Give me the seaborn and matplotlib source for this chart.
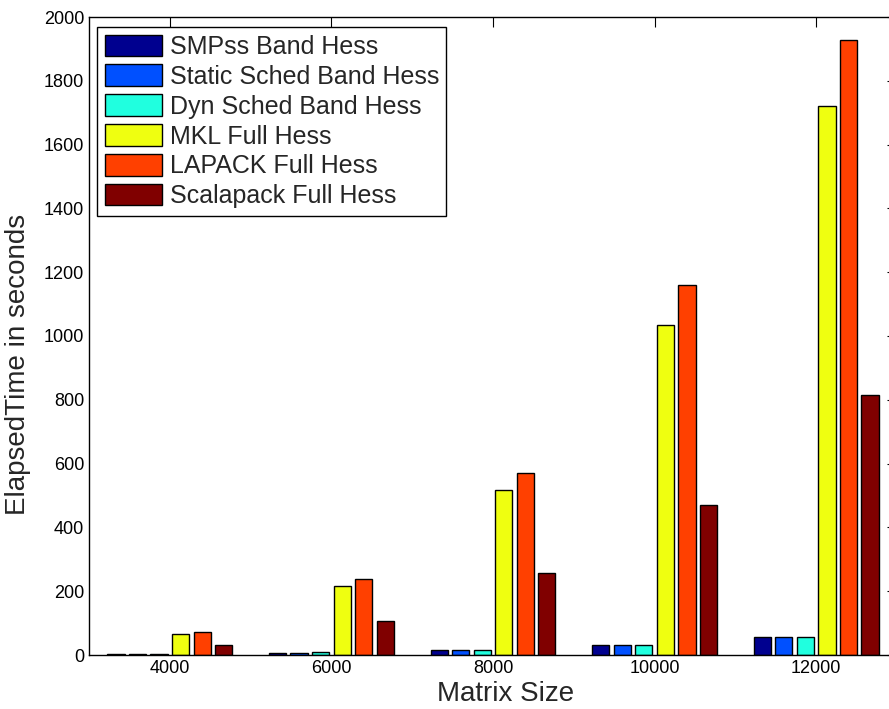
import matplotlib
matplotlib.use("Agg")
import matplotlib.pyplot as plt
import seaborn as sns
import pandas as pd

# Datos (segundos)
matrix_sizes = [4000, 6000, 8000, 10000, 12000]
methods = ["SMPss Band Hess", "Static Sched Band Hess", "Dyn Sched Band Hess",
           "MKL Full Hess", "LAPACK Full Hess", "Scalapack Full Hess"]
smpss_band = [2, 7, 16, 32, 55]
static_band = [2, 7, 16, 32, 55]
dyn_band = [2, 8, 17, 32, 55]
mkl_full = [65, 217, 516, 1034, 1722]
lapack_full = [73, 238, 571, 1161, 1928]
scalapack_full = [30, 106, 258, 471, 816]
colors = ["#00008F", "#0050FF", "#20FFDF", "#EFFF10", "#FF4000", "#800000"]

series = [smpss_band, static_band, dyn_band, mkl_full, lapack_full, scalapack_full]
rows = []
for name, vals in zip(methods, series):
    for size, v in zip(matrix_sizes, vals):
        rows.append({"Matrix Size": size, "Method": name, "Time": v})
df = pd.DataFrame(rows)

sns.set_style("white")
plt.rcParams["font.family"] = ["Liberation Sans", "DejaVu Sans"]

fig = plt.figure(figsize=(8.89, 7.09), dpi=100)
ax = fig.add_axes([89 / 889, 54 / 709, 808 / 889, 638 / 709])

sns.barplot(data=df, x="Matrix Size", y="Time", hue="Method", hue_order=methods,
            palette=colors, native_scale=True, width=0.8, gap=0.2, saturation=1,
            edgecolor="black", linewidth=1, ax=ax, errorbar=None)

ax.set_xlim(3000, 13000)
ax.set_ylim(0, 2000)
ax.set_xticks(matrix_sizes)
ax.set_yticks(range(0, 2001, 200))
ax.tick_params(direction="in", length=7, width=0.8, labelsize=13,
               top=True, right=True, colors="black")
for s in ax.spines.values():
    s.set_visible(True)
    s.set_color("black")
    s.set_linewidth(1)

ax.set_xlabel("Matrix Size", fontsize=20)
ax.set_ylabel("ElapsedTime in seconds", fontsize=20)
ax.xaxis.set_label_coords(0.516, -0.041)
ax.yaxis.set_label_coords(-0.072, 0.456)

handles, labels = ax.get_legend_handles_labels()
leg = ax.legend(handles, labels, loc="upper left",
                bbox_to_anchor=(97 / 889, 1 - 27 / 709), bbox_transform=fig.transFigure,
                fontsize=18, frameon=True, fancybox=False, framealpha=1,
                edgecolor="black", borderaxespad=0, borderpad=0.3,
                handlelength=2.3, handleheight=0.95, handletextpad=0.3,
                labelspacing=0.22)
leg.get_frame().set_linewidth(1)

fig.savefig("out.png", dpi=100)
